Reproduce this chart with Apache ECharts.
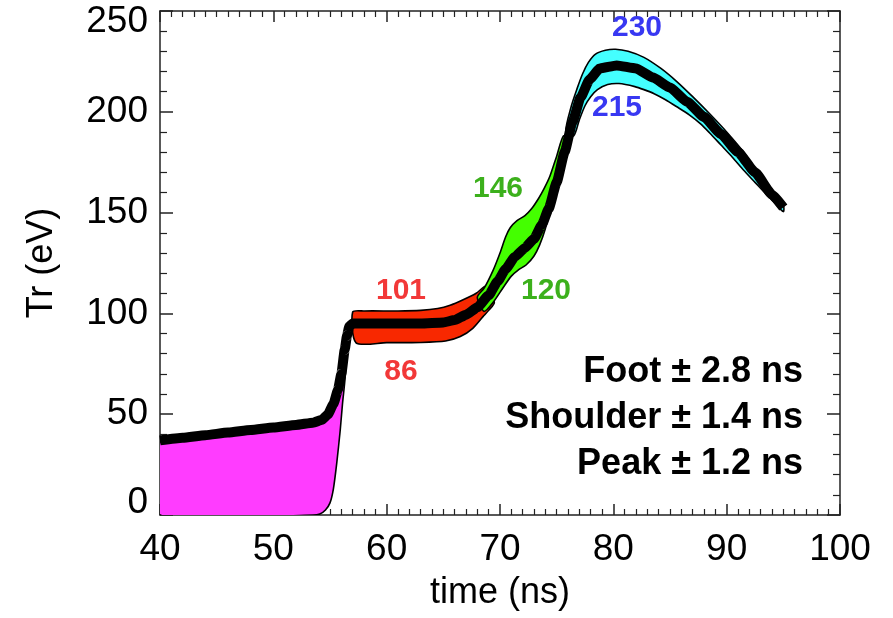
<!DOCTYPE html>
<html>
<head>
<meta charset="utf-8">
<script src="https://cdn.jsdelivr.net/npm/echarts@6/dist/echarts.min.js"></script>
<style>html,body{margin:0;padding:0;background:#fff;}#c{width:893px;height:618px;}</style>
</head>
<body>
<div id="c"></div>
<script>
// ---- data (time ns, Tr eV) ----
const xTicks = [40, 50, 60, 70, 80, 90, 100];
const yTicks = [0, 50, 100, 150, 200, 250];

const central = [[40,37],[42,38.3],[44,39.6],[46,40.9],[48,42.2],[50,43.4],[52,44.7],[53.5,45.8],[54.3,47.2],[54.8,49.8],[55.3,55],[55.7,62],[56.0,70],[56.3,82],[56.5,89],[56.7,93.5],[57.0,95],[60,95],[63,95],[65,95.5],[66,96.7],[67,99.3],[68,103],[69,109],[69.8,116],[70.5,122],[71.3,128],[72.2,132.5],[73,137],[73.7,144],[74.3,152],[75,165],[75.7,180],[76.4,195],[77.1,207],[77.9,216],[78.8,221.5],[80.3,223],[82,221.5],[83.5,217],[85,212],[86.5,205],[88,197.5],[89.5,189],[91,180],[92.5,170],[94,159],[95,152.5]];

const footUpper = [[40,36],[44,38.6],[48,41.2],[52,43.7],[53.5,44.8],[54.4,46.5],[55.0,50],[55.5,56],[56.0,66],[56.4,74]];
const footLower = [[56.3,66],[56.1,55],[55.9,42],[55.6,26],[55.3,13],[55.0,6],[54.6,2.5],[54.1,0.5],[53.5,0],[40,0]];

const shoulderUpper = [[57.0,100.7],[58,101.2],[61,101.2],[63,101.5],[64.5,102.4],[65.6,104],[66.7,106.6],[67.9,110],[68.8,113.5]];
const shoulderLower = [[69.5,105.5],[69.0,101.5],[68.5,98.4],[67.6,92.6],[66.5,88.5],[65.2,86.3],[63,85.6],[60,85.5],[57.3,85.4]];

const riseUpper = [[68.0,108],[68.6,112.5],[69.4,121.5],[70.0,130],[70.5,138],[70.9,142.5],[71.5,146],[72.2,148.5],[72.8,152],[73.4,157],[73.9,162],[74.4,168],[75.0,178],[75.6,188]];
const riseLower = [[76.1,183],[75.6,174],[75.0,164.7],[74.5,153],[74.0,142],[73.5,134],[73.0,128.5],[72.3,124],[71.6,121.5],[71.0,118.5],[70.3,113],[69.4,105.5],[68.6,101]];

const peakUpper = [[75.8,190],[76.3,203],[76.8,211.5],[77.3,219],[77.8,224.5],[78.4,228.5],[79.3,230.5],[80.2,231],[81.3,230],[82.7,227],[84.2,221.5],[85.6,215],[87.0,207.5],[88.5,199],[90.0,190],[91.5,180],[93.0,168],[94.2,159],[95.0,154]];
const peakLower = [[95.0,150.5],[94.2,155],[93.5,159],[92.5,165],[91.5,171],[90.5,177.5],[89.5,183.5],[88.5,189.5],[87.7,194],[86.7,198.5],[85.6,202.5],[84.6,206],[83.6,209],[82.7,211],[81.9,212.5],[80.5,214],[79.5,213.5],[78.6,211],[78.0,207.5],[77.5,203],[77.0,196],[76.5,188]];

const bandNames = ['Foot', 'Shoulder', 'Rise', 'Peak'];
const bandColors = ['#ff3cff', '#f82800', '#44ff00', '#44ffff'];
const bandUppers = [footUpper, shoulderUpper, riseUpper, peakUpper];
const bandLowers = [footLower, shoulderLower, riseLower, peakLower];

const valueLabels = ['230', '215', '101', '86', '146', '120'];
const valueLabelColors = ['#3838f2', '#3838f2', '#f23838', '#f23838', '#3cb01c', '#3cb01c'];
const notes = ['Foot \u00b1 2.8 ns', 'Shoulder \u00b1 1.4 ns', 'Peak \u00b1 1.2 ns'];

// ---- chart ----
const chart = echarts.init(document.getElementById('c'), null, {renderer: 'canvas'});
const FONT = '"Liberation Sans", Arial, Helvetica, sans-serif';
const axisLineStyle = {color: '#222', width: 1.5};

function xAxisCfg(pos, showLabel) {
  return {
    type: 'value', position: pos, min: xTicks[0], max: xTicks[xTicks.length-1], interval: 10,
    axisLine: {show: true, onZero: false, lineStyle: axisLineStyle},
    axisTick: {show: true, inside: true, length: 11, lineStyle: axisLineStyle},
    minorTick: {show: true, splitNumber: 10, length: 6, lineStyle: {color: '#222', width: 1.2}},
    splitLine: {show: false},
    axisLabel: {show: showLabel, fontSize: 37, color: '#000', fontFamily: FONT, margin: 16},
    name: showLabel ? 'time (ns)' : '',
    nameLocation: 'middle', nameGap: 60,
    nameTextStyle: {fontSize: 36, color: '#000', fontFamily: FONT}
  };
}
function yAxisCfg(pos, showLabel) {
  return {
    type: 'value', position: pos, min: yTicks[0], max: yTicks[yTicks.length-1], interval: 50,
    axisLine: {show: true, onZero: false, lineStyle: axisLineStyle},
    axisTick: {show: true, inside: true, length: 13, lineStyle: axisLineStyle},
    minorTick: {show: true, splitNumber: 5, length: 7, lineStyle: {color: '#222', width: 1.2}},
    splitLine: {show: false},
    axisLabel: {
      show: showLabel, fontSize: 37, color: '#000', fontFamily: FONT, margin: 12,
      formatter: function (v) {
        if (v === yTicks[yTicks.length-1]) return '{t|' + v + '}';
        if (v === yTicks[0]) return '{b|' + v + '}';
        return String(v);
      },
      rich: {
        t: {fontSize: 37, color: '#000', fontFamily: FONT, padding: [22, 0, 0, 0]},
        b: {fontSize: 37, color: '#000', fontFamily: FONT, padding: [0, 0, 24, 0]}
      }
    },
    name: showLabel ? 'Tr (eV)' : '',
    nameLocation: 'middle', nameGap: 100, nameRotate: 90,
    nameTextStyle: {fontSize: 36, color: '#000', fontFamily: FONT}
  };
}

const bandSeries = {
  type: 'custom',
  xAxisIndex: 0, yAxisIndex: 0,
  clip: true,
  data: bandNames.map((n, i) => [i]),
  renderItem: function (params, api) {
    const i = params.dataIndex;
    const pts = bandUppers[i].concat(bandLowers[i]).map(p => api.coord(p));
    return {
      type: 'polygon',
      shape: {points: pts, smooth: 0.25},
      style: {fill: bandColors[i], stroke: '#000', lineWidth: 1.6}
    };
  },
  z: 2
};

const centralSeries = {
  type: 'line',
  xAxisIndex: 0, yAxisIndex: 0,
  data: central,
  symbol: 'none',
  smooth: 0.15,
  smoothMonotone: 'x',
  lineStyle: {color: '#000', width: 10, join: 'round', cap: 'butt'},
  z: 3
};

function txt(x, y, s, color, font, align) {
  return {
    type: 'text', x: x, y: y, z: 10,
    style: {text: s, fill: color, font: font, textAlign: align || 'center', textVerticalAlign: 'middle', align: align || 'center', verticalAlign: 'middle'}
  };
}

const valueLabelPos = [[637, 28], [617, 108], [401, 291], [401, 372], [498, 189], [546, 291]];
const notePos = [[803, 372], [803, 418], [803, 464]];

const graphics = [];
valueLabels.forEach((s, i) => graphics.push(txt(valueLabelPos[i][0], valueLabelPos[i][1], s, valueLabelColors[i], 'bold 30px ' + FONT)));
notes.forEach((s, i) => graphics.push(txt(notePos[i][0], notePos[i][1], s, '#000', 'bold 36px ' + FONT, 'right')));

chart.setOption({
  animation: false,
  backgroundColor: '#fff',
  grid: {left: 160, right: 53, top: 11, bottom: 103, containLabel: false},
  xAxis: [xAxisCfg('bottom', true), xAxisCfg('top', false)],
  yAxis: [yAxisCfg('left', true), yAxisCfg('right', false)],
  series: [bandSeries, centralSeries],
  graphic: graphics
});
</script>
</body>
</html>
